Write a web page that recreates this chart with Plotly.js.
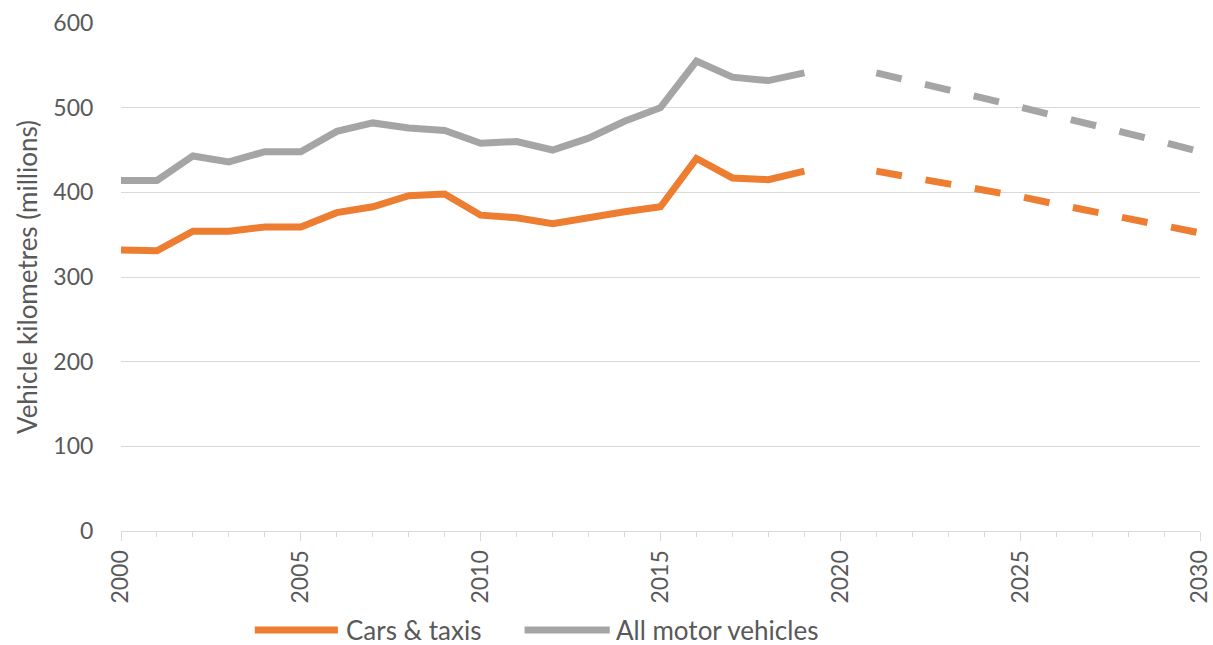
<!DOCTYPE html>
<html>
<head>
<meta charset="utf-8">
<script src="https://cdn.plot.ly/plotly-3.0.1.min.js"></script>
<style>
  html, body { margin: 0; padding: 0; background: #fff; }
  #chart { width: 1213px; height: 645px; }
</style>
</head>
<body>
<div id="chart"></div>
<script>
// observed series, 2000-2019
var years = [2000, 2001, 2002, 2003, 2004, 2005, 2006, 2007, 2008, 2009,
             2010, 2011, 2012, 2013, 2014, 2015, 2016, 2017, 2018, 2019];
var carsTaxis = [332, 331, 354, 354, 359, 359, 376, 383, 396, 398,
                 373, 370, 363, 371, 377, 383, 440, 417, 415, 425];
var allMotor = [414, 414, 443, 436, 448, 448, 472, 482, 476, 473,
                458, 460, 450, 464, 484, 500, 555, 536, 532, 541];

// projections, 2021-2030
var projYears = [2021, 2022, 2023, 2024, 2025, 2026, 2027, 2028, 2029, 2030];
var carsProj = [425, 418, 411, 403, 395, 386, 377, 369, 361, 352];
var allProj = [541, 532, 521, 511, 501, 491, 481, 470, 459, 448];

var seriesNames = ["Cars & taxis", "All motor vehicles"];
var orange = "#ED7D31";
var grey = "#A5A5A5";
var font = "Lato, 'Open Sans', sans-serif";

var data = [
  {x: projYears, y: allProj, mode: "lines", line: {color: grey, width: 7, dash: "26px,24px"}, showlegend: false},
  {x: projYears, y: carsProj, mode: "lines", line: {color: orange, width: 7, dash: "26px,24px"}, showlegend: false},
  {x: years, y: allMotor, mode: "lines", line: {color: grey, width: 7}, showlegend: false},
  {x: years, y: carsTaxis, mode: "lines", line: {color: orange, width: 7}, showlegend: false}
];

// legend drawn by hand so the line samples are as long as the original
var legY = -0.195;
var shapes = [
  {type: "line", xref: "paper", yref: "paper", x0: 0.124, x1: 0.201, y0: legY, y1: legY,
   line: {color: orange, width: 7}},
  {type: "line", xref: "paper", yref: "paper", x0: 0.374, x1: 0.453, y0: legY, y1: legY,
   line: {color: grey, width: 7}}
];
var annotations = [
  {xref: "paper", yref: "paper", x: 0.207, y: legY, xanchor: "left", yanchor: "middle",
   text: seriesNames[0], showarrow: false, height: 26, font: {family: font, size: 26, color: "#595959"}},
  {xref: "paper", yref: "paper", x: 0.457, y: legY, xanchor: "left", yanchor: "middle",
   text: seriesNames[1], showarrow: false, height: 26, font: {family: font, size: 26, color: "#595959"}}
];

var layout = {
  width: 1213,
  height: 645,
  margin: {l: 121, r: 13, t: 23, b: 114},
  paper_bgcolor: "#fff",
  plot_bgcolor: "#fff",
  font: {family: font, size: 22, color: "#595959"},
  xaxis: {
    range: [2000, 2030],
    tickmode: "linear",
    tick0: 2000,
    dtick: 5,
    tickangle: -90,
    ticks: "outside",
    ticklen: 9,
    tickcolor: "#D9D9D9",
    minor: {dtick: 1, ticks: "outside", ticklen: 5, tickcolor: "#D9D9D9", showgrid: false},
    showgrid: false,
    zeroline: false,
    showline: true,
    linecolor: "#D9D9D9",
    linewidth: 1,
    tickfont: {size: 23, color: "#595959"}
  },
  yaxis: {
    range: [0, 600],
    tickmode: "linear",
    tick0: 0,
    dtick: 100,
    ticks: "outside",
    ticklen: 22,
    tickcolor: "rgba(0,0,0,0)",
    showgrid: true,
    gridcolor: "#D9D9D9",
    gridwidth: 1,
    zeroline: false,
    showline: false,
    tickfont: {size: 23, color: "#595959"},
    title: {text: "Vehicle kilometres (millions)", standoff: 8, font: {size: 26, color: "#595959"}}
  },
  shapes: shapes,
  annotations: annotations
};

Plotly.newPlot("chart", data, layout, {staticPlot: true});
</script>
</body>
</html>
